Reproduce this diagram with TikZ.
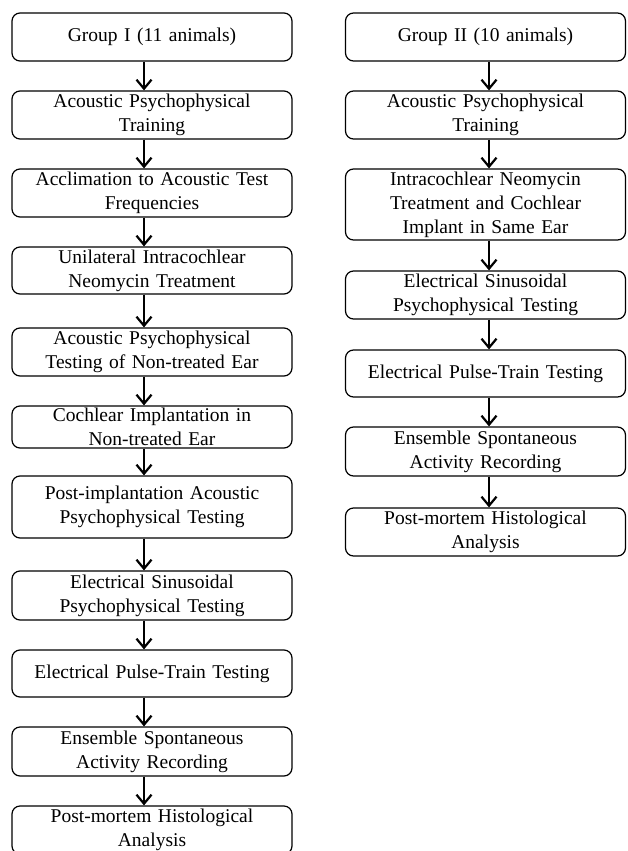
\documentclass[tikz,border=0pt]{standalone}
\usepackage{fontspec}
\setmainfont{Liberation Serif}
\usetikzlibrary{arrows.meta}
\tikzset{
  box/.style={draw, line width=1.2pt, rounded corners=8pt, minimum width=280pt, inner sep=0pt,
    text width=276pt, align=center, font=\fontsize{19.5}{24}\selectfont},
  arr/.style={line width=2.2pt, -{Straight Barb[length=9pt,width=15pt,line width=2.2pt]}}
}
\begin{document}
\begin{tikzpicture}[x=1pt,y=-1pt]
\useasboundingbox (0,0) rectangle (628,851);
\clip (0,0) rectangle (628,851);
% left column (x 12..292, centre 152)
\node[box, minimum height=48pt] (L1) at (152,37) {Group I (11 animals)};
\node[box, minimum height=48pt] (L2) at (152,115) {Acoustic Psychophysical\\Training};
\node[box, minimum height=48pt] (L3) at (152,193) {Acclimation to Acoustic Test\\Frequencies};
\node[box, minimum height=47pt] (L4) at (152,270.5) {Unilateral Intracochlear\\Neomycin Treatment};
\node[box, minimum height=48pt] (L5) at (152,352) {Acoustic Psychophysical\\Testing of Non-treated Ear};
\node[box, minimum height=42pt] (L6) at (152,427) {Cochlear Implantation in\\Non-treated Ear};
\node[box, minimum height=62pt] (L7) at (152,507) {Post-implantation Acoustic\\Psychophysical Testing};
\node[box, minimum height=49pt] (L8) at (152,595.5) {Electrical Sinusoidal\\Psychophysical Testing};
\node[box, minimum height=47pt] (L9) at (152,673.5) {Electrical Pulse-Train Testing};
\node[box, minimum height=49pt] (L10) at (152,751.5) {Ensemble Spontaneous\\Activity Recording};
\node[box, minimum height=48pt] (L11) at (152,830) {Post-mortem Histological\\Analysis};
% right column (x 345..626, centre 485.5)
\node[box, minimum height=48pt] (R1) at (485.5,37) {Group II (10 animals)};
\node[box, minimum height=48pt] (R2) at (485.5,115) {Acoustic Psychophysical\\Training};
\node[box, minimum height=71pt] (R3) at (485.5,204.5) {Intracochlear Neomycin\\Treatment and Cochlear\\Implant in Same Ear};
\node[box, minimum height=48pt] (R4) at (485.5,295) {Electrical Sinusoidal\\Psychophysical Testing};
\node[box, minimum height=47pt] (R5) at (485.5,373.5) {Electrical Pulse-Train Testing};
\node[box, minimum height=49pt] (R6) at (485.5,451.5) {Ensemble Spontaneous\\Activity Recording};
\node[box, minimum height=48pt] (R7) at (485.5,532) {Post-mortem Histological\\Analysis};
% arrow axes
\coordinate (axL) at (144,0);
\coordinate (axR) at (489,0);
\foreach \a/\b in {L1/L2,L2/L3,L3/L4,L4/L5,L5/L6,L6/L7,L7/L8,L8/L9,L9/L10,L10/L11}
  \draw[arr] (\a.south -| axL) -- (\b.north -| axL);
\foreach \a/\b in {R1/R2,R2/R3,R3/R4,R4/R5,R5/R6,R6/R7}
  \draw[arr] (\a.south -| axR) -- (\b.north -| axR);
\end{tikzpicture}
\end{document}
